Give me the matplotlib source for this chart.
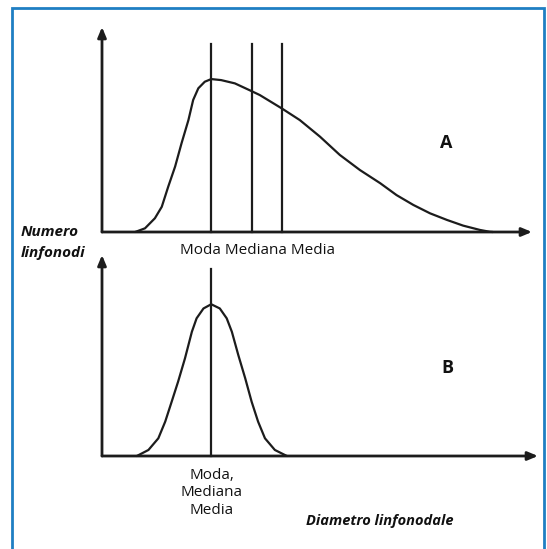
import matplotlib
matplotlib.use("Agg")
import matplotlib.pyplot as plt
from matplotlib.patches import Rectangle

plt.rcParams['font.family'] = ['Open Sans', 'DejaVu Sans']

# Curve A (skewed distribution) - x: diameter (arbitrary units), y: count (arbitrary units)
a_x = [7.7, 10.0, 12.3, 13.9, 15.4, 17.0, 18.5, 20.1, 21.2, 22.4, 23.9, 25.4,
       27.7, 30.9, 34.7, 36.7, 41.8, 46.0, 50.7, 55.3, 60.0, 64.7, 68.5,
       72.4, 76.3, 80.2, 84.0, 87.9, 90.2, 90.9]
a_y = [0.0, 1.8, 6.7, 12.3, 22.1, 31.9, 43.3, 54.6, 64.4, 70.1, 73.3, 74.6,
       74.1, 72.5, 68.8, 66.8, 60.3, 54.6, 46.5, 37.6, 30.2, 23.8, 18.0,
       13.2, 9.1, 5.9, 3.1, 1.0, 0.1, 0.0]
a_lines_x = [25.4, 34.8, 41.9]     # Moda, Mediana, Media
a_lines_top = 91.7

# Curve B (symmetric distribution)
b_x = [8.1, 10.8, 13.1, 14.7, 16.2, 17.7, 19.3, 20.9, 22.0, 23.6, 25.4,
       27.4, 29.0, 30.2, 31.7, 33.3, 34.8, 36.3, 37.9, 40.2, 43.0]
b_y = [0.0, 3.0, 8.8, 17.1, 27.0, 37.0, 48.6, 61.8, 68.5, 73.4, 75.5,
       73.4, 68.5, 61.8, 50.2, 38.7, 27.0, 17.1, 8.8, 3.0, 0.0]
b_line_x = 25.4
b_line_top = 93.0

W, H = 547, 549
fig = plt.figure(figsize=(W / 100, H / 100), dpi=100)

def px_axes(left, right, bottom, top):
    return fig.add_axes([left / W, 1 - bottom / H, (right - left) / W, (bottom - top) / H])

ink = '#1c1c1c'

def draw_axes(ax, xmax):
    ax.set_xlim(0, xmax)
    ax.set_ylim(0, 100)
    ax.axis('off')
    arr = dict(arrowstyle='-|>,head_length=0.6,head_width=0.25', color=ink, lw=2.0,
               shrinkA=0, shrinkB=0)
    ax.annotate('', xy=(xmax, 0), xytext=(0, 0), arrowprops=arr, annotation_clip=False)
    ax.annotate('', xy=(0, 100), xytext=(0, 0), arrowprops=arr, annotation_clip=False)

# Top panel
axA = px_axes(102, 532, 232, 27)
draw_axes(axA, 100)
axA.plot(a_x, a_y, color=ink, lw=1.6, solid_joinstyle='round', solid_capstyle='round',
         clip_on=False)
for xv in a_lines_x:
    axA.plot([xv, xv], [0, a_lines_top], color=ink, lw=1.6, clip_on=False)

# Bottom panel
axB = px_axes(102, 538, 456, 255)
draw_axes(axB, 436 / 4.3)
axB.plot(b_x, b_y, color=ink, lw=1.6, solid_joinstyle='round', solid_capstyle='round',
         clip_on=False)
axB.plot([b_line_x, b_line_x], [0, b_line_top], color=ink, lw=1.6, clip_on=False)

# Texts (figure pixel coordinates)
def ftext(x, y, s, **kw):
    fig.text(x / W, 1 - y / H, s, **kw)

ftext(257, 250, 'Moda Mediana Media', fontsize=11, ha='center', va='center', color='#111111')
ftext(21, 232, 'Numero', fontsize=11, ha='left', va='center', style='italic',
      weight='bold', color='#111111')
ftext(21, 253, 'linfonodi', fontsize=11, ha='left', va='center', style='italic',
      weight='bold', color='#111111')
ftext(446, 143, 'A', fontsize=13, ha='center', va='center', weight='bold', color='#111111')
ftext(447, 368, 'B', fontsize=13, ha='center', va='center', weight='bold', color='#111111')
ftext(212, 493, 'Moda,\nMediana\nMedia', fontsize=11, ha='center', va='center',
      linespacing=1.22, color='#111111')
ftext(380, 521, 'Diametro linfonodale', fontsize=10.5, ha='center', va='center',
      style='italic', weight='bold', color='#111111')

# Blue frame
fig.patches.append(Rectangle((12 / W, -0.05), (544 - 12) / W, 1 - 8 / H + 0.05,
                             transform=fig.transFigure, fill=False,
                             edgecolor='#1f7fc3', lw=2.0))

fig.savefig('out.png', dpi=100)
